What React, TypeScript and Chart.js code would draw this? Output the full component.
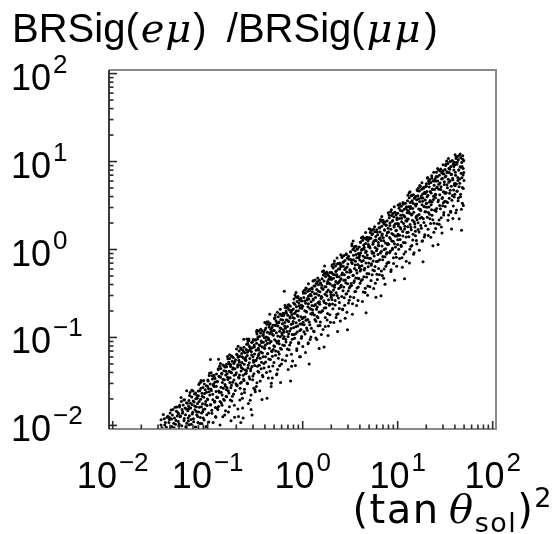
import React, { useEffect, useRef } from 'react';
import { Chart, registerables } from 'chart.js';

Chart.register(...registerables);

// ---- data: x = (tan theta_sol)^2, y = BRSig(e mu)/BRSig(mu mu) ----
const lowBand: [number, number][] = [
  [0.0341,0.0133],[0.0373,0.0124],[0.0323,0.0116],[0.039,0.0108],[0.0353,0.0101],[0.033,0.00942],
  [0.0454,0.0161],[0.0412,0.015],[0.0485,0.014],[0.0425,0.0131],[0.0398,0.0122],[0.0464,0.0114],[0.0439,0.0106],[0.0496,0.0099],[0.0407,0.00923],
  [0.0524,0.0208],[0.0559,0.0194],[0.0598,0.0181],[0.0507,0.0169],[0.0578,0.0158],[0.0618,0.0147],[0.0541,0.0137],[0.0518,0.0128],[0.0566,0.012],[0.0625,0.0112],[0.0501,0.0104],[0.0591,0.0097],
  [0.0681,0.0251],[0.0745,0.0234],[0.0645,0.0219],[0.0778,0.0204],[0.0704,0.019],[0.0659,0.0178],[0.0728,0.0166],[0.0631,0.0155],[0.0761,0.0144],[0.0689,0.0135],[0.0787,0.0126],[0.0667,0.0117],[0.0712,0.011],[0.0638,0.0102],[0.0753,0.00954],
  [0.0906,0.0325],[0.0821,0.0303],[0.0968,0.0283],[0.0848,0.0264],[0.0794,0.0246],[0.0927,0.023],[0.0877,0.0215],[0.099,0.02],[0.0811,0.0187],[0.0947,0.0174],[0.0858,0.0163],[0.0896,0.0152],[0.0803,0.0142],[0.0979,0.0132],[0.0839,0.0123],[0.0916,0.0115],[0.0867,0.0105],[0.0958,0.00937],
  [0.1045,0.0392],[0.1116,0.0366],[0.1193,0.0341],[0.1011,0.0319],[0.1154,0.0297],[0.1233,0.0278],[0.108,0.0259],[0.1034,0.0242],[0.1129,0.0226],[0.1247,0.0211],[0.1,0.0197],[0.118,0.0183],[0.1068,0.0171],[0.1206,0.016],[0.1104,0.0149],[0.1022,0.0138],[0.1219,0.0124],[0.1141,0.0108],
  [0.136,0.0507],[0.149,0.0474],[0.129,0.0442],[0.155,0.0413],[0.141,0.0385],[0.132,0.0359],[0.145,0.0335],[0.126,0.0313],[0.152,0.0292],[0.138,0.0272],[0.157,0.0254],[0.133,0.0237],[0.142,0.0222],[0.127,0.0207],[0.15,0.0193],[0.139,0.018],[0.13,0.0164],[0.154,0.0147],[0.144,0.0125],[0.135,0.0101],
  [0.18,0.0613],[0.163,0.0572],[0.193,0.0534],[0.169,0.0498],[0.158,0.0465],[0.184,0.0434],[0.174,0.0405],[0.197,0.0378],[0.162,0.0353],[0.189,0.0329],[0.171,0.0307],[0.178,0.0287],[0.16,0.0268],[0.195,0.025],[0.167,0.0233],[0.182,0.0215],[0.173,0.0194],[0.191,0.0169],[0.165,0.0142],[0.176,0.0113],
];

const lowBandExtra: [number, number][] = [
  [0.0322,0.0101],[0.0349,0.0119],[0.0367,0.0095],[0.0381,0.0127],[0.0358,0.0108],[0.0395,0.0117],
  [0.0402,0.0138],[0.0419,0.0097],[0.0431,0.0152],[0.0447,0.0121],[0.0458,0.0103],[0.0469,0.0145],[0.0478,0.0128],[0.0489,0.0111],[0.0416,0.0118],[0.0443,0.0094],[0.0472,0.0162],[0.0493,0.0136],
  [0.0505,0.0162],[0.0512,0.0125],[0.0527,0.0187],[0.0533,0.0099],[0.0546,0.0143],[0.0552,0.0171],[0.0563,0.0113],[0.0571,0.0196],[0.0584,0.0132],[0.0595,0.0154],[0.0603,0.0106],[0.0611,0.0179],[0.0622,0.0121],[0.0537,0.0152],[0.0588,0.0094],[0.0629,0.0165],
  [0.0635,0.0192],[0.0642,0.0129],[0.0651,0.0237],[0.0662,0.0158],[0.0671,0.0103],[0.0679,0.0211],[0.0686,0.0172],[0.0695,0.0141],[0.0701,0.0246],[0.0708,0.0119],[0.0719,0.0185],[0.0725,0.0228],[0.0733,0.0151],[0.0741,0.0096],[0.0749,0.0201],[0.0758,0.0163],[0.0766,0.0132],[0.0772,0.0219],[0.0781,0.0177],[0.0789,0.0108],
  [0.0798,0.0218],[0.0806,0.0291],[0.0815,0.0161],[0.0826,0.0247],[0.0834,0.0105],[0.0843,0.0198],[0.0852,0.0311],[0.0861,0.0138],[0.0871,0.0232],[0.0882,0.0176],[0.0891,0.0269],[0.0899,0.0121],[0.0909,0.0209],[0.0921,0.0296],[0.0932,0.0154],[0.0941,0.0255],[0.0952,0.0187],[0.0962,0.0097],[0.0973,0.0238],[0.0984,0.0168],[0.0995,0.0279],[0.0887,0.0143],
  [0.1005,0.0329],[0.1018,0.0262],[0.1027,0.0109],[0.1039,0.0369],[0.1051,0.0221],[0.1062,0.0295],[0.1073,0.0173],[0.1086,0.0398],[0.1095,0.0249],[0.1108,0.0137],[0.1121,0.0337],[0.1133,0.0196],[0.1146,0.0286],[0.1158,0.0372],[0.1169,0.0276],[0.1177,0.0352],[0.1188,0.0188],[0.1197,0.0311],[0.121,0.0126],[0.1224,0.0243],[0.1237,0.0384],[0.1251,0.0207],[0.1256,0.0158],
  [0.1265,0.0318],[0.1278,0.0152],[0.1292,0.0429],[0.1307,0.0246],[0.1321,0.0361],[0.1335,0.0471],[0.1349,0.0187],[0.1362,0.0352],[0.1374,0.0443],[0.1389,0.0238],[0.1402,0.0391],[0.1415,0.0169],[0.1428,0.0308],[0.1443,0.0487],[0.1457,0.0265],[0.1469,0.0198],[0.1482,0.0418],[0.1496,0.0331],[0.1508,0.0131],[0.1522,0.0462],[0.1537,0.0279],[0.1549,0.0374],[0.1563,0.0214],[0.1575,0.0495],
  [0.1588,0.0212],[0.1602,0.0386],[0.1617,0.0608],[0.1634,0.0332],[0.1649,0.0247],[0.1663,0.0523],[0.1679,0.0414],[0.1694,0.0163],[0.1707,0.0578],[0.1723,0.0349],[0.1739,0.0467],[0.1752,0.0268],[0.1768,0.0621],[0.1781,0.0398],[0.1797,0.0189],[0.1811,0.0537],[0.1826,0.0309],[0.1842,0.0452],[0.1857,0.0592],[0.1871,0.0228],[0.1886,0.0506],[0.1901,0.0372],[0.1917,0.0124],[0.1934,0.0441],[0.1958,0.0556],[0.1982,0.0297],[0.1747,0.0489],
];

const midLowBand: [number, number][] = [
  [0.209,0.0793],[0.223,0.074],[0.239,0.0691],[0.202,0.0645],[0.231,0.0602],[0.247,0.0562],[0.216,0.0524],[0.207,0.0489],[0.226,0.0456],[0.249,0.0426],[0.2,0.0398],[0.236,0.0371],[0.214,0.0346],[0.241,0.0323],[0.221,0.0302],[0.204,0.0282],[0.244,0.0257],[0.228,0.0229],[0.218,0.0195],[0.233,0.0158],[0.211,0.0126],
  [0.271,0.0958],[0.296,0.0894],[0.257,0.0835],[0.31,0.0779],[0.28,0.0727],[0.262,0.0678],[0.29,0.0633],[0.251,0.0591],[0.303,0.0551],[0.274,0.0515],[0.313,0.0481],[0.265,0.0448],[0.283,0.0419],[0.254,0.0391],[0.299,0.0364],[0.277,0.0336],[0.26,0.0303],[0.306,0.0264],[0.286,0.0222],[0.268,0.0177],[0.293,0.0131],
  [0.361,0.124],[0.327,0.116],[0.385,0.108],[0.338,0.101],[0.316,0.094],[0.369,0.0878],[0.349,0.0819],[0.394,0.0765],[0.323,0.0713],[0.377,0.0666],[0.341,0.0622],[0.357,0.058],[0.32,0.0542],[0.39,0.0505],[0.334,0.0471],[0.365,0.044],[0.345,0.0402],[0.381,0.0358],[0.33,0.0305],[0.353,0.0247],[0.373,0.0197],
  [0.416,0.15],[0.444,0.14],[0.475,0.13],[0.402,0.122],[0.459,0.114],[0.491,0.106],[0.43,0.099],[0.412,0.0924],[0.449,0.0862],[0.496,0.0805],[0.398,0.0751],[0.47,0.0701],[0.425,0.0654],[0.48,0.061],[0.439,0.057],[0.407,0.0526],[0.485,0.0474],[0.454,0.0413],[0.435,0.0347],[0.465,0.0276],[0.421,0.0204],
  [0.541,0.194],[0.591,0.181],[0.512,0.169],[0.618,0.158],[0.559,0.147],[0.524,0.137],[0.578,0.128],[0.501,0.12],[0.604,0.112],[0.547,0.104],[0.625,0.0971],[0.53,0.0906],[0.566,0.0846],[0.507,0.0789],[0.598,0.0736],[0.553,0.0688],[0.518,0.0628],[0.611,0.0559],[0.572,0.0476],[0.535,0.0387],[0.585,0.0307],
  [0.72,0.234],[0.653,0.219],[0.769,0.204],[0.674,0.19],[0.631,0.178],[0.736,0.166],[0.697,0.155],[0.787,0.144],[0.645,0.135],[0.753,0.126],[0.682,0.117],[0.712,0.11],[0.638,0.102],[0.778,0.0954],[0.667,0.089],[0.728,0.0822],[0.689,0.074],[0.761,0.0645],[0.659,0.0543],[0.704,0.0431],[0.745,0.0319],
  [0.83,0.303],[0.886,0.283],[0.947,0.264],[0.803,0.246],[0.916,0.23],[0.979,0.215],[0.858,0.2],[0.821,0.187],[0.896,0.174],[0.99,0.163],[0.794,0.152],[0.937,0.142],[0.848,0.132],[0.958,0.123],[0.877,0.115],[0.812,0.108],[0.968,0.0981],[0.906,0.0875],[0.867,0.0744],[0.927,0.0604],[0.839,0.048],
  [1.08,0.366],[1.18,0.342],[1.02,0.319],[1.23,0.297],[1.12,0.278],[1.05,0.259],[1.15,0.242],[1.0,0.226],[1.21,0.211],[1.09,0.197],[1.25,0.184],[1.06,0.171],[1.13,0.16],[1.01,0.149],[1.19,0.139],[1.1,0.128],[1.03,0.116],[1.22,0.101],[1.14,0.0849],[1.07,0.0674],[1.17,0.0499],
];

const midLowExtra: [number, number][] = [
  [0.2012,0.0739],[0.2031,0.0286],[0.2046,0.0632],[0.2063,0.0461],[0.2079,0.0154],[0.2095,0.0597],[0.2113,0.0352],[0.2128,0.0551],[0.2142,0.0702],[0.2161,0.0374],[0.2178,0.0613],[0.2193,0.0265],[0.2211,0.0482],[0.2227,0.0758],[0.2245,0.0416],[0.2262,0.0309],[0.2279,0.0655],[0.2297,0.0519],[0.2315,0.0204],[0.2332,0.0721],[0.2351,0.0437],[0.2368,0.0584],[0.2386,0.0335],[0.2404,0.0772],[0.2423,0.0497],[0.2441,0.0237],[0.2462,0.0671],[0.2481,0.0386],[0.2502,0.0563],[0.223,0.0108],[0.236,0.0121],
  [0.2524,0.0546],[0.2546,0.0731],[0.2565,0.0419],[0.2588,0.0962],[0.2607,0.0622],[0.2627,0.0297],[0.2649,0.0839],[0.2671,0.0483],[0.2689,0.0704],[0.2712,0.0924],[0.2733,0.0358],[0.2752,0.0791],[0.2776,0.0577],[0.2797,0.0193],[0.2818,0.0747],[0.2841,0.0441],[0.2862,0.0152],[0.2885,0.0689],[0.2906,0.0878],[0.2928,0.0467],[0.2951,0.0766],[0.2972,0.0331],[0.2995,0.0603],[0.3018,0.0948],[0.3041,0.0521],[0.3063,0.0387],[0.3088,0.0819],[0.3112,0.0649],[0.3139,0.0255],[0.2658,0.0902],
  [0.3172,0.0241],[0.3199,0.0934],[0.3224,0.0552],[0.3251,0.0276],[0.3275,0.0861],[0.3302,0.1098],[0.3329,0.0584],[0.3357,0.0958],[0.3381,0.0414],[0.3409,0.0754],[0.3437,0.1185],[0.3462,0.0651],[0.3491,0.0484],[0.3518,0.1024],[0.3546,0.0811],[0.3575,0.0319],[0.3603,0.1127],[0.3631,0.0683],[0.3658,0.0914],[0.3687,0.0524],[0.3716,0.1203],[0.3745,0.0778],[0.3773,0.0371],[0.3802,0.1049],[0.3831,0.0604],[0.3859,0.0881],[0.3891,0.1155],[0.3922,0.0448],[0.3955,0.0989],[0.3436,0.0721],
  [0.3993,0.1482],[0.4027,0.0814],[0.4058,0.0605],[0.4092,0.1281],[0.4123,0.1014],[0.4157,0.0399],[0.4191,0.1409],[0.4226,0.0854],[0.4257,0.1143],[0.4292,0.0655],[0.4327,0.1504],[0.4358,0.0973],[0.4395,0.0464],[0.4429,0.1312],[0.4464,0.0755],[0.4501,0.1102],[0.4536,0.1444],[0.4572,0.0561],[0.4606,0.1237],[0.4643,0.0902],[0.4679,0.0301],[0.4715,0.1168],[0.4752,0.0691],[0.4787,0.0345],[0.4825,0.1077],[0.4861,0.1373],[0.4899,0.0731],[0.4938,0.1198],[0.4979,0.0518],[0.4412,0.0943],
  [0.5027,0.1641],[0.5069,0.0944],[0.5108,0.1378],[0.5151,0.1805],[0.519,0.0701],[0.5233,0.1546],[0.5276,0.1128],[0.532,0.0377],[0.5359,0.146],[0.5403,0.0864],[0.5447,0.0431],[0.5486,0.1346],[0.5533,0.1716],[0.5576,0.0914],[0.562,0.1498],[0.5666,0.0648],[0.571,0.1179],[0.5755,0.1852],[0.5799,0.1017],[0.5845,0.0756],[0.5891,0.1601],[0.5936,0.1268],[0.5982,0.0499],[0.6027,0.1761],[0.6074,0.1067],[0.612,0.1429],[0.6168,0.0819],[0.6217,0.1881],[0.6268,0.1216],[0.5541,0.058],
  [0.6327,0.1143],[0.6379,0.1873],[0.6428,0.0811],[0.6482,0.1475],[0.6531,0.2316],[0.6585,0.1272],[0.664,0.0946],[0.6695,0.2002],[0.6744,0.1586],[0.6799,0.0624],[0.6855,0.2202],[0.6904,0.1335],[0.6963,0.1787],[0.7017,0.1024],[0.7072,0.2352],[0.713,0.1521],[0.7186,0.0726],[0.7242,0.2053],[0.7298,0.1181],[0.7355,0.1723],[0.7413,0.2258],[0.747,0.0877],[0.7528,0.1934],[0.7585,0.1411],[0.7644,0.0472],[0.7702,0.1826],[0.7762,0.1081],[0.7824,0.0539],[0.7888,0.1684],[0.6971,0.2146],
  [0.7963,0.2105],[0.8021,0.1287],[0.8088,0.2741],[0.8147,0.1652],[0.8211,0.0978],[0.8276,0.2379],[0.8334,0.1913],[0.8402,0.1104],[0.8466,0.2884],[0.8531,0.1469],[0.8592,0.2237],[0.8659,0.0712],[0.8723,0.2563],[0.8791,0.1785],[0.8857,0.1351],[0.8922,0.2926],[0.8989,0.2012],[0.9055,0.0853],[0.9122,0.2458],[0.9193,0.1568],[0.9261,0.2689],[0.9328,0.1196],[0.9396,0.2156],[0.9468,0.0604],[0.9539,0.2791],[0.9608,0.1722],[0.9679,0.2319],[0.9752,0.1028],[0.9823,0.2602],[0.9897,0.1413],
  [1.003,0.0791],[1.011,0.3302],[1.019,0.1681],[1.027,0.2839],[1.035,0.1394],[1.043,0.3452],[1.051,0.2012],[1.059,0.1093],[1.067,0.3196],[1.075,0.2447],[1.083,0.1567],[1.092,0.3598],[1.1,0.1951],[1.109,0.2667],[1.117,0.1205],[1.126,0.3348],[1.135,0.2238],[1.144,0.0871],[1.152,0.2962],[1.161,0.2741],[1.17,0.1498],[1.179,0.3523],[1.188,0.2136],[1.197,0.0947],[1.206,0.3105],[1.216,0.1856],[1.225,0.2543],[1.234,0.1271],[1.244,0.3648],[1.253,0.2304],
];

const midHighBand: [number, number][] = [
  [1.44,0.474],[1.3,0.442],[1.54,0.413],[1.35,0.385],[1.26,0.359],[1.47,0.335],[1.39,0.313],[1.57,0.292],[1.29,0.273],[1.5,0.254],[1.36,0.237],[1.42,0.222],[1.27,0.207],[1.55,0.193],[1.33,0.18],[1.45,0.168],[1.38,0.153],[1.52,0.137],[1.32,0.116],[1.41,0.0945],[1.49,0.0751],
  [1.66,0.572],[1.77,0.534],[1.89,0.498],[1.6,0.465],[1.83,0.434],[1.95,0.405],[1.71,0.378],[1.64,0.353],[1.79,0.329],[1.98,0.307],[1.59,0.287],[1.87,0.268],[1.69,0.25],[1.91,0.233],[1.75,0.218],[1.62,0.201],[1.93,0.181],[1.81,0.158],[1.73,0.133],[1.85,0.105],[1.68,0.078],
  [2.16,0.74],[2.35,0.691],[2.04,0.645],[2.46,0.602],[2.23,0.562],[2.09,0.524],[2.3,0.489],[2.0,0.457],[2.41,0.426],[2.18,0.398],[2.49,0.371],[2.11,0.346],[2.25,0.323],[2.02,0.302],[2.38,0.281],[2.2,0.263],[2.06,0.24],[2.43,0.214],[2.28,0.182],[2.13,0.148],[2.33,0.117],
  [2.87,0.894],[2.6,0.835],[3.06,0.779],[2.68,0.727],[2.51,0.678],[2.93,0.633],[2.77,0.591],[3.13,0.551],[2.57,0.515],[3.0,0.481],[2.71,0.448],[2.84,0.418],[2.54,0.391],[3.1,0.364],[2.66,0.34],[2.9,0.314],[2.74,0.283],[3.03,0.246],[2.63,0.207],[2.8,0.165],[2.96,0.122],
  [3.3,1.16],[3.53,1.08],[3.77,1.01],[3.2,0.941],[3.65,0.878],[3.9,0.819],[3.42,0.765],[3.27,0.714],[3.57,0.666],[3.94,0.621],[3.16,0.58],[3.73,0.541],[3.38,0.505],[3.81,0.471],[3.49,0.44],[3.23,0.411],[3.85,0.375],[3.61,0.334],[3.45,0.284],[3.69,0.231],[3.34,0.183],
  [4.3,1.4],[4.7,1.31],[4.07,1.22],[4.91,1.14],[4.44,1.06],[4.16,0.99],[4.59,0.923],[3.98,0.862],[4.8,0.804],[4.35,0.751],[4.96,0.701],[4.21,0.654],[4.5,0.611],[4.03,0.57],[4.75,0.532],[4.4,0.491],[4.12,0.442],[4.85,0.385],[4.54,0.324],[4.25,0.257],[4.65,0.191],
  [5.72,1.81],[5.18,1.69],[6.11,1.58],[5.35,1.47],[5.01,1.37],[5.85,1.28],[5.53,1.2],[6.25,1.12],[5.12,1.04],[5.98,0.971],[5.41,0.907],[5.66,0.846],[5.07,0.79],[6.18,0.737],[5.3,0.687],[5.78,0.642],[5.47,0.586],[6.04,0.522],[5.24,0.444],[5.59,0.361],[5.91,0.287],
  [6.59,2.19],[7.04,2.04],[7.53,1.9],[6.38,1.78],[7.28,1.66],[7.78,1.55],[6.82,1.44],[6.53,1.35],[7.12,1.26],[7.87,1.17],[6.31,1.1],[7.45,1.02],[6.74,0.954],[7.61,0.89],[6.97,0.831],[6.45,0.767],[7.69,0.691],[7.2,0.602],[6.89,0.507],[7.36,0.402],[6.67,0.298],
];

const midHighExtra: [number, number][] = [
  [1.262,0.3312],[1.272,0.1914],[1.282,0.4387],[1.292,0.2661],[1.302,0.1187],[1.312,0.3856],[1.322,0.2298],[1.333,0.3145],[1.343,0.1602],[1.354,0.4514],[1.364,0.2851],[1.375,0.0988],[1.386,0.4099],[1.397,0.2089],[1.408,0.3517],[1.419,0.1733],[1.43,0.4305],[1.441,0.2486],[1.452,0.1355],[1.464,0.3961],[1.475,0.3021],[1.487,0.1947],[1.498,0.4458],[1.51,0.2389],[1.522,0.3298],[1.534,0.1499],[1.546,0.4165],[1.558,0.2772],[1.57,0.1082],[1.581,0.3684],
  [1.588,0.3923],[1.601,0.1997],[1.613,0.5632],[1.626,0.3552],[1.638,0.1235],[1.651,0.5118],[1.664,0.2611],[1.677,0.4392],[1.69,0.2163],[1.703,0.5374],[1.717,0.3104],[1.73,0.1691],[1.744,0.4945],[1.757,0.3768],[1.771,0.2428],[1.785,0.5562],[1.799,0.2982],[1.813,0.4118],[1.827,0.1872],[1.841,0.5199],[1.856,0.3459],[1.87,0.1349],[1.885,0.4597],[1.9,0.4132],[1.915,0.2393],[1.93,0.5481],[1.945,0.3315],[1.96,0.1488],[1.976,0.4807],[1.991,0.2874],
  [1.999,0.3264],[2.015,0.5489],[2.031,0.2703],[2.047,0.6718],[2.063,0.3879],[2.079,0.2114],[2.096,0.6181],[2.112,0.4711],[2.129,0.3035],[2.146,0.6953],[2.163,0.3728],[2.18,0.5147],[2.197,0.2339],[2.214,0.6499],[2.232,0.4324],[2.249,0.1686],[2.267,0.5746],[2.285,0.5164],[2.303,0.2992],[2.321,0.6852],[2.339,0.4142],[2.358,0.1861],[2.376,0.6007],[2.395,0.3594],[2.414,0.4903],[2.433,0.2497],[2.452,0.7041],[2.471,0.4441],[2.491,0.1543],[2.508,0.6397],
  [2.517,0.8691],[2.537,0.466],[2.557,0.6434],[2.577,0.2924],[2.597,0.8124],[2.618,0.5405],[2.638,0.2108],[2.659,0.7183],[2.68,0.6455],[2.701,0.3741],[2.723,0.8566],[2.744,0.5178],[2.766,0.2326],[2.788,0.7509],[2.81,0.4493],[2.832,0.6129],[2.854,0.3121],[2.877,0.8802],[2.899,0.5551],[2.922,0.1929],[2.945,0.7996],[2.968,0.4081],[2.992,0.6862],[3.015,0.3379],[3.039,0.8398],[3.063,0.4849],[3.087,0.2643],[3.112,0.7727],[3.136,0.5889],[3.158,0.3794],
  [3.168,0.2908],[3.193,0.9389],[3.218,0.5618],[3.244,0.7663],[3.269,0.3902],[3.295,1.1005],[3.321,0.6941],[3.347,0.2412],[3.374,0.9998],[3.401,0.5102],[3.427,0.858],[3.454,0.4225],[3.482,1.05],[3.509,0.6063],[3.537,0.3305],[3.565,0.9661],[3.593,0.7363],[3.621,0.4744],[3.65,1.0867],[3.679,0.5827],[3.708,0.8045],[3.737,0.3656],[3.766,1.0158],[3.796,0.6758],[3.826,0.2636],[3.856,0.8981],[3.887,0.8071],[3.917,0.4677],[3.948,1.071],[3.976,0.6474],
  [3.988,0.758],[4.019,0.4132],[4.051,1.2079],[4.083,0.9206],[4.116,0.5931],[4.148,1.3587],[4.181,0.7285],[4.214,1.0058],[4.247,0.4571],[4.281,1.27],[4.315,0.845],[4.349,0.3296],[4.383,1.1229],[4.418,1.009],[4.452,0.5848],[4.488,1.339],[4.523,0.8094],[4.559,0.3636],[4.594,1.1739],[4.631,0.7024],[4.667,0.9581],[4.704,0.4878],[4.741,1.3759],[4.779,0.8678],[4.816,0.3015],[4.854,1.25],[4.893,0.6379],[4.931,1.0727],[4.97,0.5283],[5.005,1.3128],
  [5.021,1.7203],[5.061,1.085],[5.1,0.377],[5.141,1.5629],[5.181,0.7976],[5.222,1.3412],[5.263,0.6605],[5.305,1.6414],[5.347,0.9477],[5.389,0.5166],[5.431,1.5102],[5.474,1.151],[5.518,0.7416],[5.561,1.6987],[5.605,0.9108],[5.649,1.2575],[5.694,0.5715],[5.739,1.5878],[5.784,1.0565],[5.83,0.4121],[5.876,1.404],[5.922,1.2617],[5.969,0.7312],[6.016,1.6742],[6.064,1.012],[6.112,0.4546],[6.16,1.4677],[6.208,0.8782],[6.257,1.1979],[6.302,0.6099],
  [6.321,1.985],[6.371,1.3208],[6.421,0.5152],[6.472,1.7553],[6.523,1.5773],[6.574,0.9141],[6.626,2.0931],[6.678,1.2652],[6.731,0.5683],[6.784,1.8349],[6.838,1.0979],[6.891,1.4976],[6.946,0.7625],[7.001,2.1506],[7.056,1.3564],[7.111,0.4713],[7.168,1.9539],[7.224,0.9971],[7.281,1.6768],[7.338,0.8258],[7.396,2.0521],[7.454,1.1848],[7.513,0.6458],[7.572,1.8881],[7.632,1.4389],[7.692,0.9271],[7.753,2.1237],[7.814,1.1386],[7.876,1.5721],[7.933,0.7145],
];

const highBand: [number, number][] = [
  [8.58,2.83],[9.37,2.64],[8.12,2.46],[9.79,2.3],[8.86,2.14],[8.3,2.0],[9.17,1.87],[7.94,1.74],[9.58,1.63],[8.67,1.52],[9.9,1.42],[8.4,1.32],[8.97,1.24],[8.03,1.15],[9.48,1.07],[8.77,1.0],[8.21,0.916],[9.68,0.816],[9.06,0.695],[8.48,0.564],[9.27,0.448],
  [11.4,3.42],[10.3,3.19],[12.2,2.97],[10.7,2.78],[10.0,2.59],[11.7,2.42],[11.0,2.26],[12.5,2.11],[10.2,1.96],[11.9,1.84],[10.8,1.71],[11.3,1.6],[10.1,1.49],[12.3,1.39],[10.6,1.3],[11.5,1.2],[10.9,1.08],[12.1,0.941],[10.5,0.792],[11.2,0.629],[11.8,0.466],
  [13.2,4.42],[14.1,4.13],[15.0,3.85],[12.7,3.59],[14.5,3.35],[15.5,3.13],[13.6,2.92],[13.0,2.73],[14.2,2.54],[15.7,2.37],[12.6,2.22],[14.9,2.07],[13.5,1.93],[15.2,1.8],[13.9,1.68],[12.9,1.57],[15.4,1.43],[14.4,1.28],[13.8,1.09],[14.7,0.882],[13.3,0.701],
  [17.1,5.34],[18.7,4.98],[16.2,4.65],[19.5,4.34],[17.7,4.05],[16.6,3.78],[18.3,3.53],[15.9,3.29],[19.1,3.07],[17.3,2.87],[19.8,2.68],[16.8,2.5],[17.9,2.33],[16.0,2.18],[18.9,2.03],[17.5,1.87],[16.4,1.69],[19.3,1.47],[18.1,1.24],[16.9,0.983],[18.5,0.728],
  [22.8,6.91],[20.6,6.45],[24.3,6.02],[21.3,5.62],[20.0,5.24],[23.3,4.89],[22.0,4.57],[24.9,4.26],[20.4,3.97],[23.8,3.71],[21.6,3.46],[22.5,3.23],[20.2,3.02],[24.6,2.81],[21.1,2.63],[23.0,2.45],[21.8,2.24],[24.1,1.99],[20.9,1.7],[22.3,1.38],[23.5,1.1],
  [26.3,8.35],[28.0,7.79],[30.0,7.27],[25.4,6.78],[29.0,6.33],[31.0,5.91],[27.1,5.51],[26.0,5.15],[28.4,4.8],[31.3,4.48],[25.1,4.19],[29.6,3.9],[26.8,3.65],[30.3,3.4],[27.7,3.17],[25.7,2.93],[30.6,2.64],[28.7,2.3],[27.4,1.94],[29.3,1.54],[26.6,1.14],
  [34.2,10.8],[37.3,10.1],[32.3,9.41],[39.0,8.78],[35.3,8.19],[33.0,7.65],[36.5,7.14],[31.6,6.66],[38.1,6.21],[34.5,5.8],[39.4,5.41],[33.4,5.05],[35.7,4.72],[32.0,4.4],[37.7,4.1],[34.9,3.83],[32.7,3.5],[38.5,3.12],[36.1,2.65],[33.8,2.15],[36.9,1.71],
  [45.4,12.2],[41.2,11.3],[48.5,10.6],[42.5,9.87],[39.8,9.21],[46.5,8.6],[44.0,8.03],[49.6,7.49],[40.7,6.99],[47.5,6.53],[43.0,6.09],[45.0,5.68],[40.3,5.31],[49.1,4.95],[42.1,4.62],[45.9,4.26],[43.5,3.84],[48.0,3.35],[41.6,2.82],[44.4,2.24],[47.0,1.66],
];

const highExtra: [number, number][] = [
  [7.957,2.6166],[8.019,1.5817],[8.083,0.7104],[8.147,2.2939],[8.211,1.3725],[8.276,1.8722],[8.341,0.9532],[8.407,2.6885],[8.473,1.6957],[8.54,0.5892],[8.607,2.4426],[8.675,1.2465],[8.744,2.0962],[8.813,1.0323],[8.882,2.5654],[8.952,1.4811],[9.023,0.8073],[9.094,2.3603],[9.166,1.7988],[9.238,1.159],[9.311,2.6549],[9.385,1.4234],[9.459,1.9653],[9.533,0.8932],[9.609,2.4815],[9.684,1.6511],[9.761,0.6441],[9.838,2.1943],[9.915,1.9718],[9.987,1.1428],
  [10.02,1.2904],[10.1,3.2068],[10.18,1.8514],[10.26,1.0092],[10.34,2.9504],[10.42,2.2486],[10.5,1.4488],[10.58,3.3187],[10.67,1.7793],[10.75,2.4567],[10.84,1.1165],[10.92,3.1019],[11.01,2.0639],[11.1,0.8051],[11.18,2.743],[11.27,2.4648],[11.36,1.4285],[11.45,3.2709],[11.54,1.9771],[11.63,0.888],[11.72,2.8674],[11.82,1.7157],[11.91,2.3403],[12.0,1.1915],[12.1,3.3607],[12.19,2.1197],[12.29,0.7365],[12.39,3.0533],[12.48,1.5581],[12.57,2.6203],
  [12.62,2.8122],[12.72,1.812],[12.82,4.1505],[12.92,2.2253],[13.02,3.0725],[13.12,1.3964],[13.23,3.8794],[13.33,2.5812],[13.43,1.0069],[13.54,3.4305],[13.65,3.0826],[13.75,1.7866],[13.86,4.0907],[13.97,2.4726],[14.08,1.1106],[14.19,3.5861],[14.31,2.1458],[14.42,2.9269],[14.53,1.4902],[14.65,4.2031],[14.77,2.651],[14.88,0.9211],[15.0,3.8186],[15.12,1.9487],[15.24,3.2771],[15.36,1.6139],[15.48,4.0106],[15.61,2.3155],[15.73,1.2621],[15.84,3.6899],
  [15.89,1.1514],[16.01,4.7733],[16.14,2.4359],[16.27,4.0964],[16.4,2.0174],[16.53,5.0133],[16.66,2.8944],[16.79,1.5776],[16.93,4.6124],[17.06,3.5153],[17.2,2.265],[17.33,5.1881],[17.47,2.7816],[17.61,3.8406],[17.75,1.7455],[17.89,4.8493],[18.03,3.2265],[18.18,1.2586],[18.32,4.2881],[18.47,3.8533],[18.61,2.2333],[18.76,5.1134],[18.91,3.0908],[19.06,1.3883],[19.21,4.4826],[19.37,2.6822],[19.52,3.6586],[19.68,1.8628],[19.83,5.2539],[19.95,3.3138],
  [20.0,5.6046],[20.16,3.3536],[20.32,4.5744],[20.48,2.3291],[20.65,6.5691],[20.81,4.1432],[20.98,1.4396],[21.15,5.9681],[21.32,3.0457],[21.49,5.1217],[21.66,2.5224],[21.83,6.2681],[22.01,3.6189],[22.18,1.9725],[22.36,5.7669],[22.54,4.3953],[22.72,2.832],[22.9,6.4866],[23.09,3.4779],[23.27,4.802],[23.46,2.1824],[23.65,6.0631],[23.84,4.0342],[24.03,1.5736],[24.22,5.3614],[24.41,4.8179],[24.61,2.7924],[24.81,6.3934],[25.0,3.8645],[25.1,1.7358],
  [25.18,6.0043],[25.38,2.7289],[25.58,7.5812],[25.79,5.0443],[25.99,1.9676],[26.2,6.7038],[26.41,6.0243],[26.62,3.4916],[26.84,7.9942],[27.05,4.8323],[27.27,2.1704],[27.49,7.0079],[27.71,4.1932],[27.93,5.7197],[28.15,2.9123],[28.38,8.2139],[28.61,5.1806],[28.84,1.8001],[29.07,7.4624],[29.3,3.8083],[29.53,6.404],[29.77,3.154],[30.01,7.8374],[30.25,4.525],[30.49,2.4664],[30.74,7.2108],[30.98,5.4958],[31.23,3.5411],[31.48,8.1107],[31.6,4.3486],
  [31.7,3.0839],[31.96,9.0163],[32.21,6.8719],[32.47,4.4278],[32.73,10.14],[33.0,5.4374],[33.26,7.5078],[33.53,3.4122],[33.8,9.4793],[34.07,6.3073],[34.35,2.4602],[34.62,8.3824],[34.9,7.5327],[35.18,4.3658],[35.47,9.9958],[35.75,6.0422],[36.04,2.7138],[36.33,8.7626],[36.62,5.2432],[36.92,7.1518],[37.22,3.6415],[37.52,10.27],[37.82,6.4778],[38.12,2.2509],[38.43,9.3309],[38.74,4.7619],[39.05,8.0077],[39.37,3.9437],[39.68,9.8],[39.78,5.6579],
  [39.9,4.2403],[40.22,11.96],[40.55,7.543],[40.87,2.6211],[41.2,10.866],[41.53,5.5449],[41.87,9.3247],[42.2,4.5923],[42.54,11.41],[42.89,6.5887],[43.23,3.5911],[43.58,10.499],[43.93,8.0021],[44.29,5.1561],[44.65,11.81],[45.01,6.3316],[45.37,8.7427],[45.74,3.9735],[46.11,11.04],[46.48,7.3447],[46.85,2.865],[47.23,9.761],[47.61,8.771],[47.99,5.0839],[48.38,11.64],[48.77,7.0359],[49.16,3.1601],[49.56,10.204],[49.95,6.1055],[48.9,8.3279],
];

// a few points sitting on / just above the upper rim of the band
const upperRimPoints: [number, number][] = [
  [0.06,0.0248],[0.085,0.0325],[0.13,0.0564],[0.17,0.0637],[0.24,0.0954],[0.33,0.121],[0.45,0.184],[0.58,0.209],
  [0.85,0.325],[1.15,0.407],[1.7,0.651],[2.3,0.798],[3.4,1.25],[4.6,1.56],[6.8,2.38],[9.2,3.06],
  [13.5,4.54],[18,5.73],[24,7.56],[30,9.17],
];

const outlierPoints: [number, number][] = [
  [0.107, 0.0562], [0.64, 0.336],
];

// axes
const xMin = 0.00914;
const xMax = 108.4;
const yMin = 0.0091;
const yMax = 109.9;
const xTickExponents = [-2, -1, 0, 1, 2];
const yTickExponents = [-2, -1, 0, 1, 2];
const minorMultipliers = [2, 3, 4, 5, 6, 7, 8, 9];

const SANS = '"Liberation Sans", Arial, sans-serif';
const DEJAVU = '"DejaVu Sans", sans-serif';
const MATH_IT = '"DejaVu Serif", "Liberation Serif", serif';

const expText = (e: number) => (e < 0 ? '\u2212' + Math.abs(e) : String(e));

const decorPlugin = {
  id: 'decor',
  afterDatasetsDraw(chart: any) {
    const { ctx, chartArea: a, scales } = chart;
    const xs = scales.x;
    const ys = scales.y;
    ctx.save();

    // frame
    ctx.lineCap = 'butt';
    ctx.strokeStyle = '#8a8a8a';
    ctx.lineWidth = 2;
    ctx.beginPath();
    ctx.moveTo(a.left, a.top);
    ctx.lineTo(a.right, a.top);
    ctx.lineTo(a.right, a.bottom);
    ctx.lineTo(a.left, a.bottom);
    ctx.stroke();
    ctx.strokeStyle = '#3c3c3c';
    ctx.beginPath();
    ctx.moveTo(a.left, a.top);
    ctx.lineTo(a.left, a.bottom);
    ctx.stroke();

    // ticks
    ctx.strokeStyle = '#2a2a2a';
    ctx.lineWidth = 1.6;
    const collect = (exps: number[]) => {
      const out: { v: number; major: boolean }[] = [];
      for (const e of exps) {
        out.push({ v: Math.pow(10, e), major: true });
        if (e < exps[exps.length - 1]) for (const m of minorMultipliers) out.push({ v: m * Math.pow(10, e), major: false });
      }
      return out;
    };
    for (const t of collect(xTickExponents)) {
      const px = xs.getPixelForValue(t.v);
      const len = t.major ? 8 : 4.5;
      ctx.beginPath();
      ctx.moveTo(px, a.bottom);
      ctx.lineTo(px, a.bottom - len);
      ctx.stroke();
    }
    for (const t of collect(yTickExponents)) {
      const py = ys.getPixelForValue(t.v);
      const len = t.major ? 8 : 4.5;
      ctx.beginPath();
      ctx.moveTo(a.left, py);
      ctx.lineTo(a.left + len, py);
      ctx.stroke();
    }

    // tick labels
    ctx.fillStyle = '#000';
    ctx.textBaseline = 'alphabetic';
    ctx.textAlign = 'left';
    const baseFont = `36px ${SANS}`;
    const supFont = `26px ${SANS}`;
    const gap = 2;
    const widths = (e: number) => {
      ctx.font = baseFont;
      const wb = ctx.measureText('10').width;
      ctx.font = supFont;
      const ws = ctx.measureText(expText(e)).width;
      return { wb, ws };
    };
    const drawPow = (x: number, base: number, e: number) => {
      const { wb } = widths(e);
      ctx.font = baseFont;
      ctx.fillText('10', x, base);
      ctx.font = supFont;
      ctx.fillText(expText(e), x + wb + gap, base - 17);
    };
    for (const e of xTickExponents) {
      const px = xs.getPixelForValue(Math.pow(10, e));
      const { wb, ws } = widths(e);
      drawPow(px - (wb + ws + gap) / 2, 488, e);
    }
    for (const e of yTickExponents) {
      const py = ys.getPixelForValue(Math.pow(10, e));
      drawPow(11, py + 16, e);
    }

    // title
    const titleParts = [
      { t: 'BRSig(', f: `40px ${SANS}`, ls: 0, after: 2 },
      { t: 'e\u03bc', f: `italic 40px ${MATH_IT}`, ls: 1, after: 1 },
      { t: ')', f: `40px ${SANS}`, ls: 0, after: 9 },
      { t: ' /BRSig(', f: `40px ${SANS}`, ls: 0, after: 2 },
      { t: '\u03bc\u03bc', f: `italic 40px ${MATH_IT}`, ls: 2, after: 2 },
      { t: ')', f: `40px ${SANS}`, ls: 0, after: 0 },
    ];
    let tx = 12;
    for (const p of titleParts) {
      ctx.font = p.f;
      (ctx as any).letterSpacing = `${p.ls}px`;
      ctx.fillText(p.t, tx, 42);
      tx += ctx.measureText(p.t).width + p.after;
    }
    (ctx as any).letterSpacing = '0px';

    // x-axis title
    const axParts = [
      { t: '(tan\u2009', f: `40px ${DEJAVU}`, dy: 0 },
      { t: '\u03b8', f: `italic 40px ${MATH_IT}`, dy: 0 },
      { t: 'sol', f: `27px ${DEJAVU}`, dy: 9 },
      { t: ')', f: `40px ${DEJAVU}`, dy: 0 },
      { t: '2', f: `27px ${DEJAVU}`, dy: -16 },
    ];
    (ctx as any).letterSpacing = '1.5px';
    let total = 0;
    for (const p of axParts) { ctx.font = p.f; total += ctx.measureText(p.t).width; }
    let ax = 553 - total;
    for (const p of axParts) {
      ctx.font = p.f;
      ctx.fillText(p.t, ax, 523 + p.dy);
      ax += ctx.measureText(p.t).width;
    }
    (ctx as any).letterSpacing = '0px';
    ctx.restore();
  },
};

export default function App() {
  const canvasRef = useRef<HTMLCanvasElement | null>(null);
  useEffect(() => {
    if (!canvasRef.current) return;
    const allPoints = [
      ...lowBand, ...lowBandExtra,
      ...midLowBand, ...midLowExtra,
      ...midHighBand, ...midHighExtra,
      ...highBand, ...highExtra,
      ...upperRimPoints, ...outlierPoints,
    ];
    const chart = new Chart(canvasRef.current, {
      type: 'scatter',
      data: {
        datasets: [
          {
            label: 'BRSig ratio',
            data: allPoints.map(([x, y]) => ({ x, y })),
            pointRadius: 1.5,
            pointHoverRadius: 1.5,
            pointBorderWidth: 0,
            pointBackgroundColor: '#000',
            backgroundColor: '#000',
            borderColor: '#000',
          },
        ],
      },
      options: {
        responsive: false,
        animation: false,
        events: [],
        layout: { padding: { left: 109, top: 70, right: 60, bottom: 105 } },
        scales: {
          x: { type: 'logarithmic', min: xMin, max: xMax, display: false },
          y: { type: 'logarithmic', min: yMin, max: yMax, display: false },
        },
        plugins: { legend: { display: false }, tooltip: { enabled: false }, title: { display: false } },
      },
      plugins: [decorPlugin],
    });
    return () => chart.destroy();
  }, []);
  return (
    <div style={{ position: 'absolute', left: 0, top: 0, width: 556, height: 534, background: '#fff' }}>
      <canvas ref={canvasRef} width={556} height={534} style={{ display: 'block' }} />
    </div>
  );
}
